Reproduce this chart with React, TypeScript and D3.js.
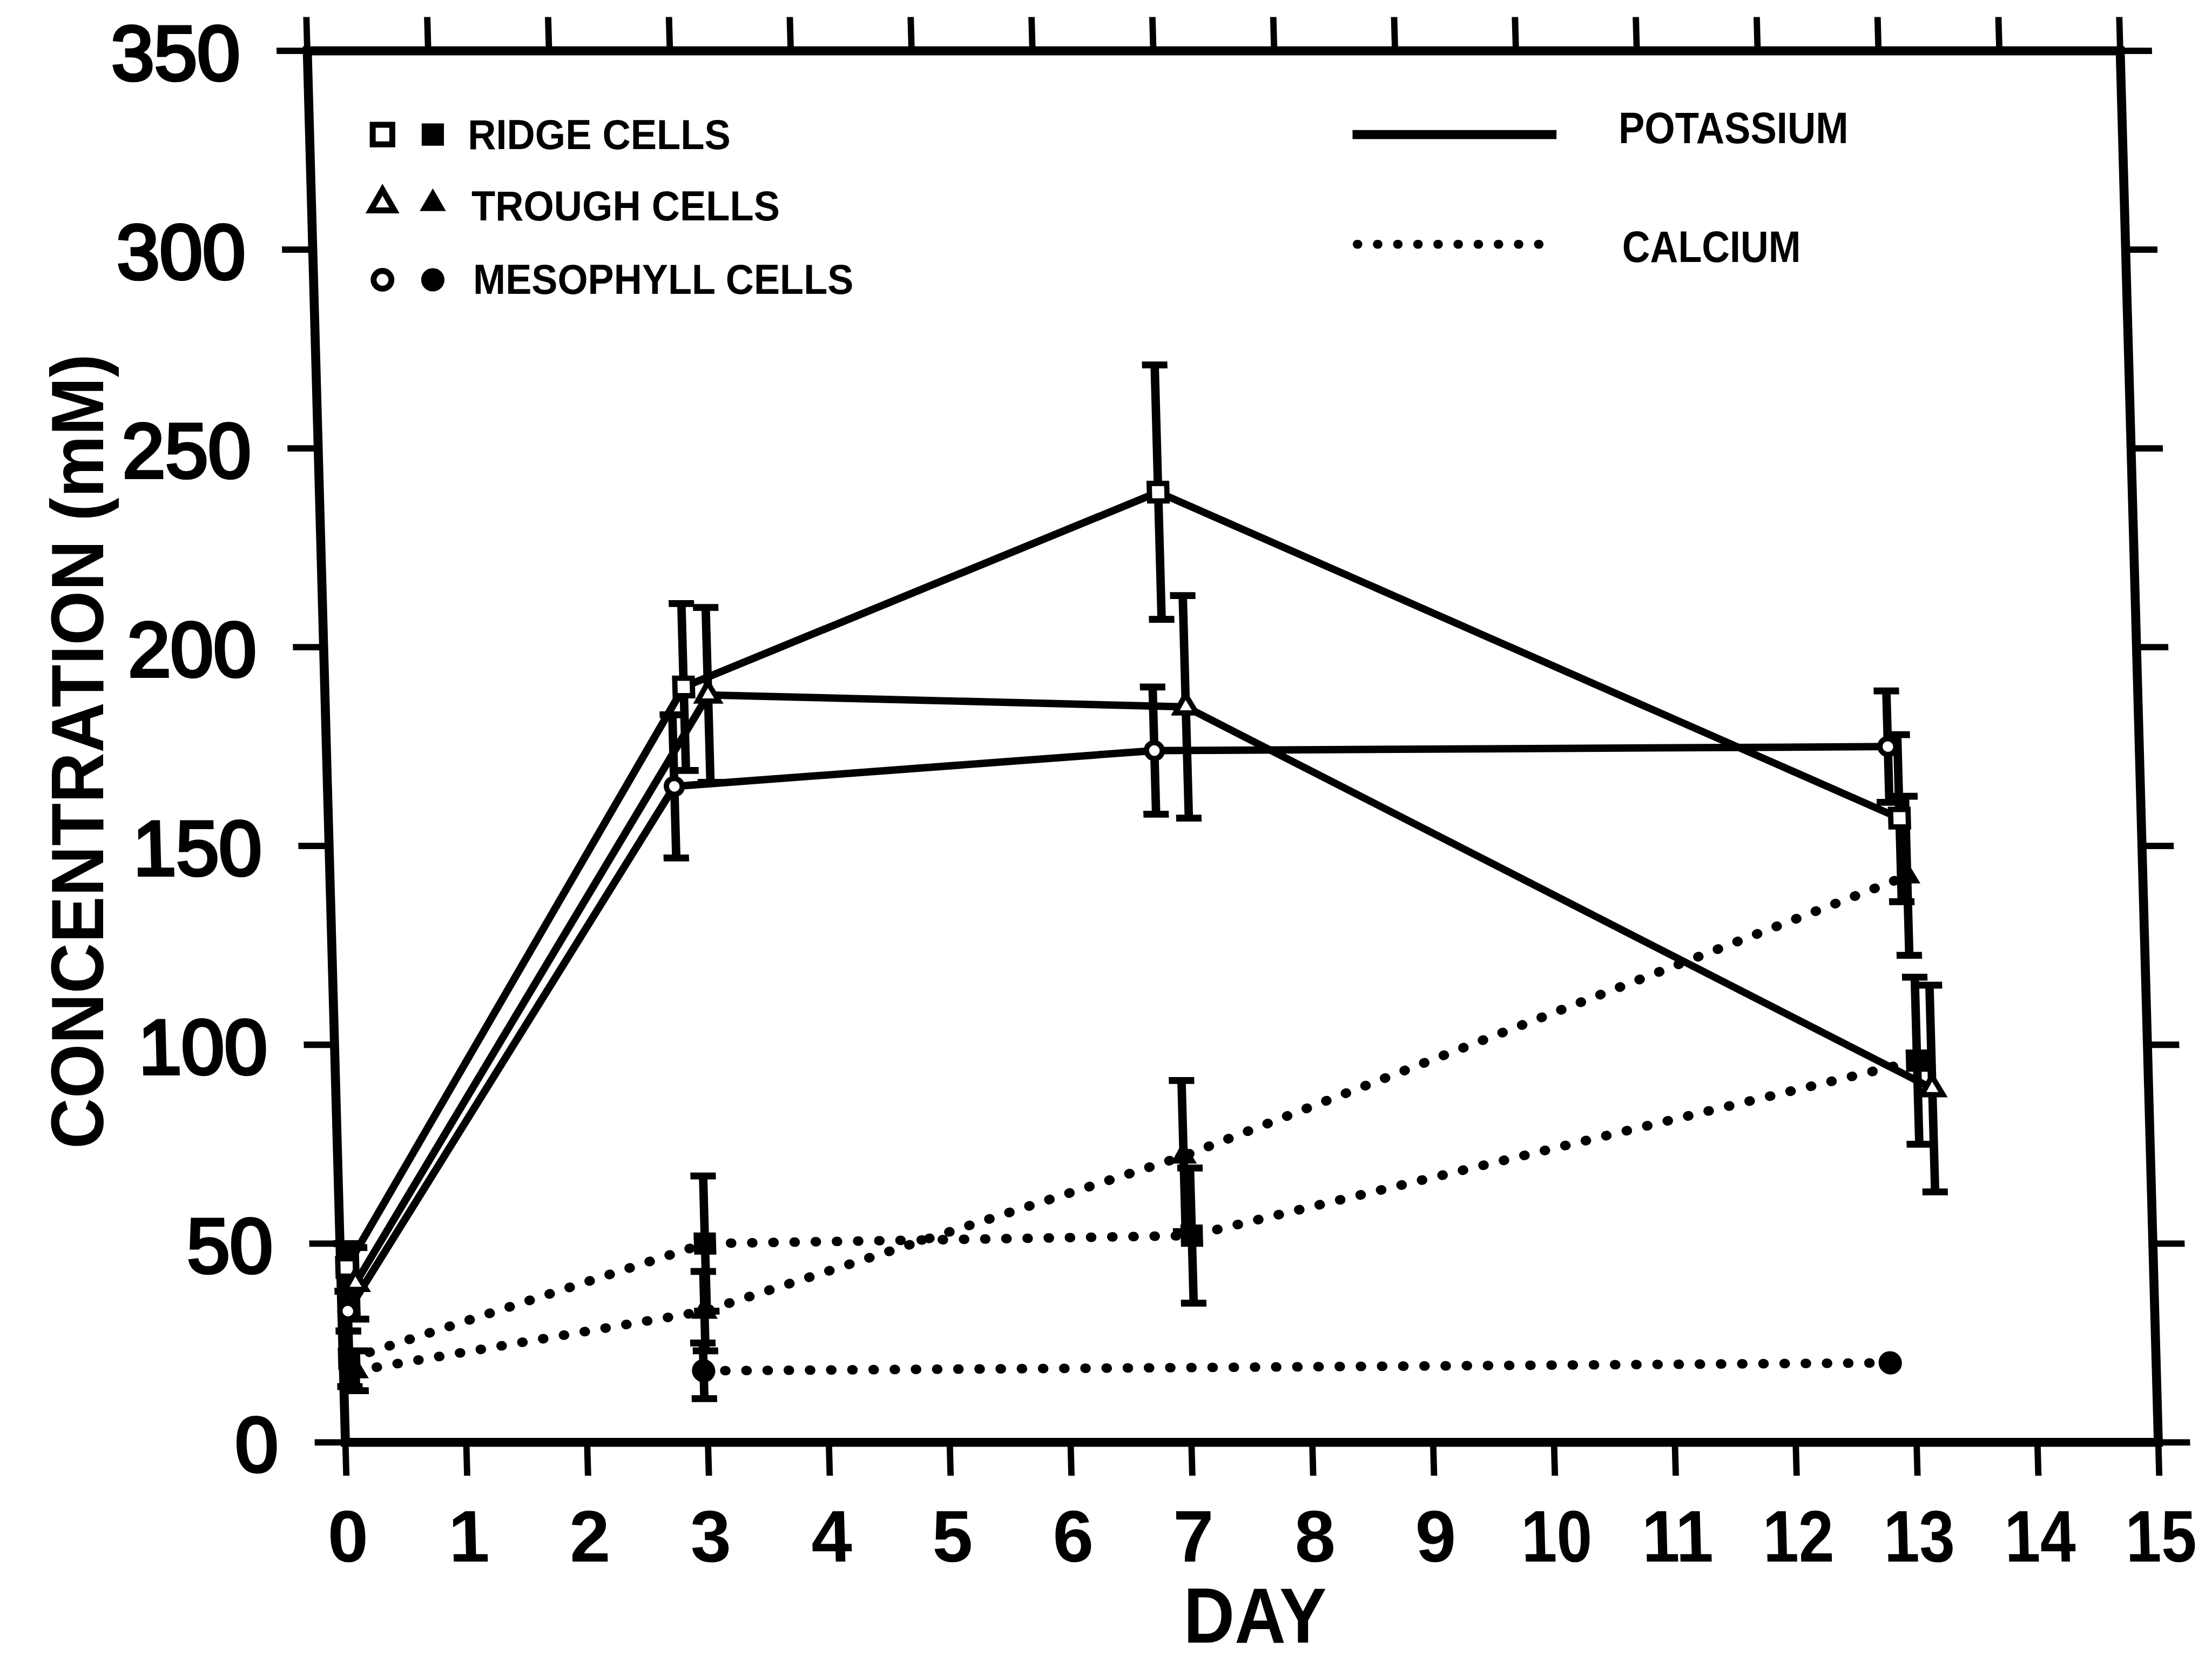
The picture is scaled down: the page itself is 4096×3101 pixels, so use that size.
import React from "react";
import * as d3 from "d3";

// Axis ticks
const dayTicks = d3.range(0, 16);
const concTicks = d3.range(0, 351, 50);

// Potassium (solid lines, open symbols)
const kRidgeDay = [0.05, 2.97, 6.94, 13.0];
const kRidge = [44, 190, 239, 157];
const kRidgeErr = [6, 21, 32, 21];

const kTroughDay = [0.12, 3.17, 7.12, 13.21];
const kTrough = [40, 188, 185, 89];
const kTroughErr = [9, 22, 28, 26];

const kMesoDay = [0.05, 2.87, 6.85, 12.92];
const kMeso = [33, 165, 174, 175];
const kMesoErr = [5, 18, 16, 14];

// Calcium (dotted lines, filled symbols)
const caRidgeDay = [0.05, 3.02, 7.05, 13.09];
const caRidge = [21, 50, 52, 96];
const caRidgeErr = [7, 17, 17, 21];

const caTroughDay = [0.1, 3.0, 7.0, 13.05];
const caTrough = [18, 33, 72, 142.5];
const caTroughErr = [5, 10, 19, 20];

const caMesoDay = [2.98, 12.8];
const caMeso = [18, 20];
const caMesoErr = [7, 0];

// Legend labels
const cellLabels = ["RIDGE CELLS", "TROUGH CELLS", "MESOPHYLL CELLS"];
const ionLabels = ["POTASSIUM", "CALCIUM"];

type Shape = "square" | "triangle" | "circle";
interface Series {
  days: number[];
  values: number[];
  errors: number[];
  shape: Shape;
  filled: boolean;
  dotted: boolean;
}

const seriesList: Series[] = [
  { days: kRidgeDay, values: kRidge, errors: kRidgeErr, shape: "square", filled: false, dotted: false },
  { days: kTroughDay, values: kTrough, errors: kTroughErr, shape: "triangle", filled: false, dotted: false },
  { days: kMesoDay, values: kMeso, errors: kMesoErr, shape: "circle", filled: false, dotted: false },
  { days: caRidgeDay, values: caRidge, errors: caRidgeErr, shape: "square", filled: true, dotted: true },
  { days: caTroughDay, values: caTrough, errors: caTroughErr, shape: "triangle", filled: true, dotted: true },
  { days: caMesoDay, values: caMeso, errors: caMesoErr, shape: "circle", filled: true, dotted: true },
];

// Layout (drawn in a 4175 x 3161 space, then scaled to the page)
const S = 0.981;
const Y0 = 2722;
const SHEAR = 0.0274;
const shearDeg = (Math.atan(SHEAR) * 180) / Math.PI;

const x = d3.scaleLinear().domain([0, 15]).range([652, 4074]);
const y = d3.scaleLinear().domain([0, 350]).range([Y0, 96]);

const FONT = "'Liberation Sans', Arial, Helvetica, sans-serif";

const symbolType = (s: Shape) =>
  s === "square" ? d3.symbolSquare : s === "triangle" ? d3.symbolTriangle : d3.symbolCircle;

function markerPath(shape: Shape, filled: boolean, k = 1) {
  let size: number;
  if (shape === "square") size = filled ? 40 * 40 : 33 * 33;
  else if (shape === "triangle") {
    const side = filled ? 46 : 40;
    size = (Math.sqrt(3) / 4) * side * side;
  } else {
    const d = filled ? 42 : 30;
    size = Math.PI * (d / 2) * (d / 2);
  }
  return d3.symbol().type(symbolType(shape)).size(size * k * k)() as string;
}

function Marker({ shape, filled, cx, cy, k = 1 }: { shape: Shape; filled: boolean; cx: number; cy: number; k?: number }) {
  return (
    <path
      d={markerPath(shape, filled, k)}
      transform={`translate(${cx},${cy})`}
      fill={filled ? "#000" : "#fff"}
      stroke="#000"
      strokeWidth={filled ? 2 : 10 * k}
      strokeLinejoin="miter"
    />
  );
}

export default function App() {
  const line = d3
    .line<[number, number]>()
    .x((d) => x(d[0]))
    .y((d) => y(d[1]));

  const capW = 48;

  return (
    <svg
      width={4096}
      height={3101}
      viewBox="0 0 4096 3101"
      style={{ position: "absolute", left: 0, top: 0, background: "#fff" }}
    >
      <rect x={0} y={0} width={4096} height={3101} fill="#fff" />
      <g transform={`scale(${S})`}>
        <g transform={`translate(0 ${Y0}) skewX(${shearDeg}) translate(0 ${-Y0})`}>
          {/* frame */}
          <rect
            x={x(0)}
            y={y(350)}
            width={x(15) - x(0)}
            height={y(0) - y(350)}
            fill="none"
            stroke="#000"
            strokeWidth={17}
          />
          {/* day ticks, bottom and top */}
          {dayTicks.map((d) => (
            <g key={`dt${d}`} stroke="#000" strokeWidth={12}>
              <line x1={x(d)} x2={x(d)} y1={y(0)} y2={y(0) + 63} />
              <line x1={x(d)} x2={x(d)} y1={y(350)} y2={y(350) - 64} />
            </g>
          ))}
          {/* concentration ticks, left and right */}
          {concTicks.map((v) => (
            <g key={`ct${v}`} stroke="#000" strokeWidth={12}>
              <line x1={x(0)} x2={x(0) - 58} y1={y(v)} y2={y(v)} />
              <line x1={x(15)} x2={x(15) + 60} y1={y(v)} y2={y(v)} />
            </g>
          ))}
          {/* tick labels */}
          {dayTicks.map((d) => (
            <text
              key={`dl${d}`}
              x={x(d)}
              y={2947}
              textAnchor="middle"
              fontFamily={FONT}
              fontWeight={700}
              fontSize={138}
              {...(String(d).length > 1 ? { textLength: 134, lengthAdjust: "spacingAndGlyphs" } : {})}
            >
              {d}
            </text>
          ))}
          {concTicks.map((v) => (
            <text
              key={`cl${v}`}
              x={525}
              y={y(v) + 55}
              textAnchor="end"
              fontFamily={FONT}
              fontWeight={400}
              fontSize={146}
              stroke="#000"
              strokeWidth={6}
            >
              {v}
            </text>
          ))}

          {/* connecting lines */}
          {seriesList.map((s, i) => (
            <path
              key={`ln${i}`}
              d={line(s.days.map((d, j) => [d, s.values[j]] as [number, number])) as string}
              fill="none"
              stroke="#000"
              strokeWidth={s.dotted ? 18 : 14}
              strokeLinecap="round"
              strokeLinejoin="round"
              strokeDasharray={s.dotted ? "2 38" : undefined}
            />
          ))}

          {/* error bars */}
          {seriesList.map((s, i) =>
            s.days.map((d, j) => {
              const e = s.errors[j];
              if (!e) return null;
              const cx = x(d);
              const top = y(s.values[j] + e);
              const bot = y(s.values[j] - e);
              return (
                <g key={`eb${i}-${j}`} stroke="#000">
                  <line x1={cx} x2={cx} y1={top} y2={bot} strokeWidth={16} />
                  <line x1={cx - capW / 2} x2={cx + capW / 2} y1={top} y2={top} strokeWidth={13} />
                  <line x1={cx - capW / 2} x2={cx + capW / 2} y1={bot} y2={bot} strokeWidth={13} />
                </g>
              );
            })
          )}

          {/* symbols */}
          {seriesList.map((s, i) =>
            s.days.map((d, j) => (
              <Marker key={`mk${i}-${j}`} shape={s.shape} filled={s.filled} cx={x(d)} cy={y(s.values[j])} />
            ))
          )}
        </g>

        {/* legend: cell types */}
        {(["square", "triangle", "circle"] as Shape[]).map((shape, i) => {
          const cy = [254, 384, 528][i];
          const ty = [281, 416, 555][i];
          const tx = [883, 890, 893][i];
          const tw = [496, 582, 718][i];
          return (
            <g key={`lg${i}`}>
              <Marker shape={shape} filled={false} cx={722} cy={cy} k={1.12} />
              <Marker shape={shape} filled={true} cx={817} cy={cy} k={1.0} />
              <text
                x={tx}
                y={ty}
                fontFamily={FONT}
                fontWeight={700}
                fontSize={80}
                textLength={tw}
                lengthAdjust="spacingAndGlyphs"
              >
                {cellLabels[i]}
              </text>
            </g>
          );
        })}

        {/* legend: ions */}
        <line x1={2553} x2={2938} y1={254} y2={254} stroke="#000" strokeWidth={17} />
        <text x={3055} y={270} fontFamily={FONT} fontWeight={700} fontSize={84} textLength={434} lengthAdjust="spacingAndGlyphs">
          {ionLabels[0]}
        </text>
        <line
          x1={2562}
          x2={2941}
          y1={461}
          y2={461}
          stroke="#000"
          strokeWidth={17}
          strokeLinecap="round"
          strokeDasharray="1 37"
        />
        <text x={3062} y={494} fontFamily={FONT} fontWeight={700} fontSize={83} textLength={337} lengthAdjust="spacingAndGlyphs">
          {ionLabels[1]}
        </text>

        {/* axis titles */}
        <text
          x={2369}
          y={3100}
          textAnchor="middle"
          fontFamily={FONT}
          fontWeight={700}
          fontSize={148}
          textLength={270}
          lengthAdjust="spacingAndGlyphs"
        >
          DAY
        </text>
        <text
          transform="translate(195 1418) rotate(-90)"
          x={0}
          y={0}
          textAnchor="middle"
          fontFamily={FONT}
          fontWeight={700}
          fontSize={140}
          textLength={1500}
          lengthAdjust="spacingAndGlyphs"
        >
          CONCENTRATION (mM)
        </text>
      </g>
    </svg>
  );
}
